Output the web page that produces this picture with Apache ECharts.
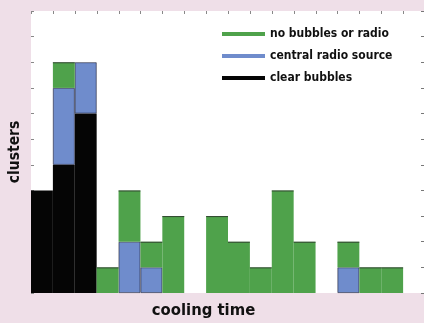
<!DOCTYPE html>
<html>
<head>
<meta charset="utf-8">
<script src="https://cdn.jsdelivr.net/npm/echarts@6/dist/echarts.min.js"></script>
<style>
html,body{margin:0;padding:0;background:#efdfe8;}
#chart{width:424px;height:323px;}
</style>
</head>
<body>
<div id="chart"></div>
<script>
var bins = ['1','2','3','4','5','6','7','8','9','10','11','12','13','14','15','16','17',''];
var clearBubbles = [4,5,7,0,0,0,0,0,0,0,0,0,0,0,0,0,0,0];
var centralRadio = [0,3,2,0,2,1,0,0,0,0,0,0,0,0,1,0,0,0];
var noBubbles    = [0,1,0,1,2,1,3,0,3,2,1,4,2,0,1,1,1,0];
var seriesNames = ['clear bubbles','central radio source','no bubbles or radio'];
var legendOrder = ['no bubbles or radio','central radio source','clear bubbles'];
var yMax = 11;

function nz(a){ return a.map(function(v){ return v === 0 ? null : v; }); }
var greenTops = [];
noBubbles.forEach(function(v, i){
  if (v > 0) greenTops.push([i, clearBubbles[i] + centralRadio[i] + v]);
});
var topTicks = bins.map(function(b, i){ return [i, yMax]; });

var FONT = '"DejaVu Sans Condensed", "DejaVu Sans", sans-serif';
var chart = echarts.init(document.getElementById('chart'));
chart.setOption({
  animation:false,
  backgroundColor:'#efdfe8',
  grid:{left:31, top:11, height:282, width:394, show:true, backgroundColor:'#ffffff', borderWidth:0, outerBoundsMode:'none', containLabel:false},
  legend:{
    orient:'vertical', left:217, top:23, itemWidth:43, itemHeight:4, itemGap:10,
    icon:'rect', data:legendOrder, itemStyle:{borderWidth:0},
    textStyle:{fontFamily:FONT, fontWeight:'bold', fontSize:12, color:'#111'}
  },
  xAxis:{
    type:'category', data:bins, position:'bottom',
    name:'cooling time', nameLocation:'middle', nameGap:9,
    nameTextStyle:{fontFamily:FONT, fontWeight:'bold', fontSize:16.5, color:'#111', padding:[0,49,0,0]},
    axisLine:{show:false}, axisTick:{show:false}, axisLabel:{show:false}, splitLine:{show:false}
  },
  yAxis:[{
    type:'value', min:0, max:yMax, interval:1,
    name:'clusters', nameLocation:'middle', nameGap:8,
    nameTextStyle:{fontFamily:FONT, fontWeight:'bold', fontSize:15.5, color:'#111'},
    axisLine:{show:false}, axisTick:{show:true, inside:true, length:3, lineStyle:{color:'#888'}},
    axisLabel:{show:false}, splitLine:{show:false}
  },{
    type:'value', min:0, max:yMax, interval:1, position:'right',
    axisLine:{show:false}, axisTick:{show:true, inside:true, length:4, lineStyle:{color:'#777'}},
    axisLabel:{show:false}, splitLine:{show:false}
  }],
  series:[
    {name:seriesNames[0], type:'bar', stack:'s', data:nz(clearBubbles), barCategoryGap:'0%', itemStyle:{color:'#050505'}},
    {name:seriesNames[1], type:'bar', stack:'s', data:nz(centralRadio), barCategoryGap:'0%', itemStyle:{color:'#6f8ccc', borderColor:'rgba(20,20,40,0.7)', borderWidth:0.8}},
    {name:seriesNames[2], type:'bar', stack:'s', data:nz(noBubbles), barCategoryGap:'0%', itemStyle:{color:'#4fa24b'}},
    {type:'custom', data:greenTops, silent:true, z:5,
      renderItem:function(params, api){
        var p = api.coord([api.value(0), api.value(1)]);
        var w = api.size([1, 0])[0];
        return {type:'line', shape:{x1:p[0]-w/2, y1:p[1]+0.5, x2:p[0]+w/2, y2:p[1]+0.5},
                style:{stroke:'rgba(40,40,40,0.75)', lineWidth:1}};
      }},
    {type:'custom', data:topTicks, silent:true, z:5,
      renderItem:function(params, api){
        var p = api.coord([api.value(0), api.value(1)]);
        var w = api.size([1, 0])[0];
        var x = Math.round(p[0]-w/2)+0.5;
        return {type:'line', shape:{x1:x, y1:p[1], x2:x, y2:p[1]+3},
                style:{stroke:'#888', lineWidth:1}};
      }}
  ]
});
</script>
</body>
</html>
